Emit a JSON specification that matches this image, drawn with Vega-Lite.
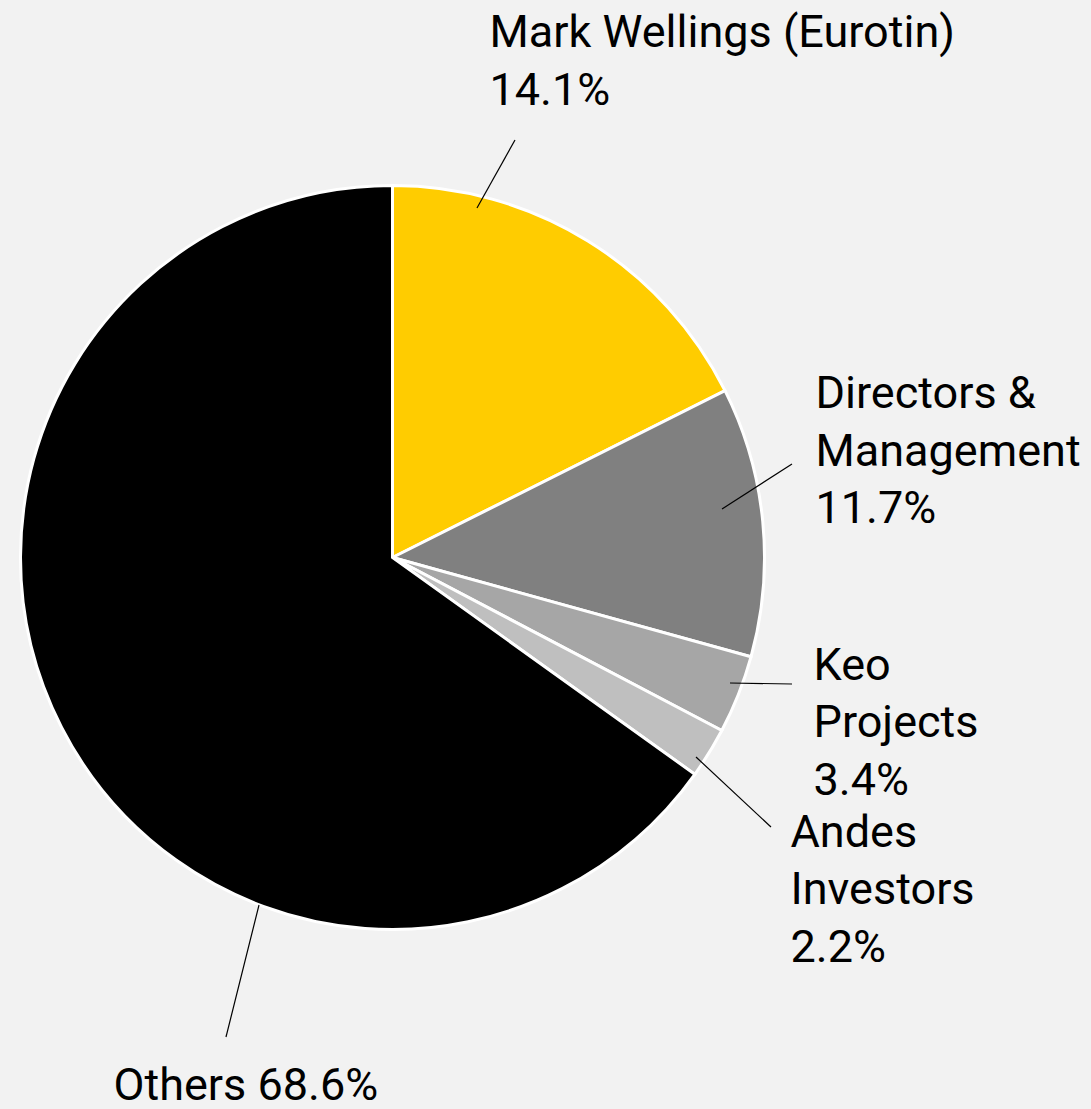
{
  "$schema": "https://vega.github.io/schema/vega-lite/v6.json",
  "width": 785,
  "height": 1109,
  "autosize": {"type": "none"},
  "padding": {"left": 0, "top": 3, "right": 306, "bottom": 0},
  "background": "#f2f2f2",
  "config": {"view": {"stroke": null}},
  "data": {
    "values": [
      {"name": "Mark Wellings (Eurotin)", "share": 17.6, "pct": 14.1, "label": "Mark Wellings (Eurotin)\n14.1%", "order": 1},
      {"name": "Directors & Management", "share": 11.7, "pct": 11.7, "label": "Directors &\nManagement\n11.7%", "order": 2},
      {"name": "Keo Projects", "share": 3.4, "pct": 3.4, "label": "Keo\nProjects\n3.4%", "order": 3},
      {"name": "Andes Investors", "share": 2.2, "pct": 2.2, "label": "Andes\nInvestors\n2.2%", "order": 4},
      {"name": "Others", "share": 65.1, "pct": 68.6, "label": "Others 68.6%", "order": 5}
    ]
  },
  "layer": [
    {
      "mark": {"type": "arc", "outerRadius": 372, "stroke": "#ffffff", "strokeWidth": 3},
      "encoding": {
        "theta": {"field": "share", "type": "quantitative", "stack": true},
        "order": {"field": "order", "type": "quantitative"},
        "color": {
          "field": "name",
          "type": "nominal",
          "scale": {
            "domain": ["Mark Wellings (Eurotin)", "Directors & Management", "Keo Projects", "Andes Investors", "Others"],
            "range": ["#ffcc00", "#808080", "#a6a6a6", "#bfbfbf", "#000000"]
          },
          "legend": null
        }
      }
    },
    {
      "transform": [{"filter": "datum.order == 1"}],
      "mark": {"type": "rule", "color": "#000000", "strokeWidth": 1.2},
      "encoding": {
        "x": {"datum": 0.2265, "type": "quantitative", "scale": {"domain": [-1.05228, 1.05228], "nice": false, "zero": false}, "axis": null},
        "y": {"datum": 0.9370, "type": "quantitative", "scale": {"domain": [-1.4866, 1.4866], "nice": false, "zero": false}, "axis": null},
        "x2": {"datum": 0.3284},
        "y2": {"datum": 1.1193}
      }
    },
    {
      "transform": [{"filter": "datum.order == 2"}],
      "mark": {"type": "rule", "color": "#000000", "strokeWidth": 1.2},
      "encoding": {
        "x": {"datum": 0.8834, "type": "quantitative", "axis": null},
        "y": {"datum": 0.1300, "type": "quantitative", "axis": null},
        "x2": {"datum": 1.0710},
        "y2": {"datum": 0.2507}
      }
    },
    {
      "transform": [{"filter": "datum.order == 3"}],
      "mark": {"type": "rule", "color": "#000000", "strokeWidth": 1.2},
      "encoding": {
        "x": {"datum": 0.9048, "type": "quantitative", "axis": null},
        "y": {"datum": -0.3365, "type": "quantitative", "axis": null},
        "x2": {"datum": 1.0710},
        "y2": {"datum": -0.3391}
      }
    },
    {
      "transform": [{"filter": "datum.order == 4"}],
      "mark": {"type": "rule", "color": "#000000", "strokeWidth": 1.2},
      "encoding": {
        "x": {"datum": 0.8137, "type": "quantitative", "axis": null},
        "y": {"datum": -0.5349, "type": "quantitative", "axis": null},
        "x2": {"datum": 1.0147},
        "y2": {"datum": -0.7225}
      }
    },
    {
      "transform": [{"filter": "datum.order == 5"}],
      "mark": {"type": "rule", "color": "#000000", "strokeWidth": 1.2},
      "encoding": {
        "x": {"datum": -0.3579, "type": "quantitative", "axis": null},
        "y": {"datum": -0.9316, "type": "quantitative", "axis": null},
        "x2": {"datum": -0.4464},
        "y2": {"datum": -1.2855}
      }
    },
    {
      "transform": [{"filter": "datum.order == 1"}],
      "mark": {"type": "text", "align": "left", "baseline": "alphabetic", "font": "Roboto", "fontSize": 45, "lineHeight": 57.5, "lineBreak": "\n", "color": "#000000"},
      "encoding": {
        "x": {"datum": 0.2600, "type": "quantitative", "axis": null},
        "y": {"datum": 1.3686, "type": "quantitative", "axis": null},
        "text": {"field": "label"}
      }
    },
    {
      "transform": [{"filter": "datum.order == 2"}],
      "mark": {"type": "text", "align": "left", "baseline": "alphabetic", "font": "Roboto", "fontSize": 45, "lineHeight": 57.5, "lineBreak": "\n", "color": "#000000"},
      "encoding": {
        "x": {"datum": 1.1340, "type": "quantitative", "axis": null},
        "y": {"datum": 0.4008, "type": "quantitative", "axis": null},
        "text": {"field": "label"}
      }
    },
    {
      "transform": [{"filter": "datum.order == 3"}],
      "mark": {"type": "text", "align": "left", "baseline": "alphabetic", "font": "Roboto", "fontSize": 45, "lineHeight": 57.5, "lineBreak": "\n", "color": "#000000"},
      "encoding": {
        "x": {"datum": 1.1287, "type": "quantitative", "axis": null},
        "y": {"datum": -0.3284, "type": "quantitative", "axis": null},
        "text": {"field": "label"}
      }
    },
    {
      "transform": [{"filter": "datum.order == 4"}],
      "mark": {"type": "text", "align": "left", "baseline": "alphabetic", "font": "Roboto", "fontSize": 45, "lineHeight": 57.5, "lineBreak": "\n", "color": "#000000"},
      "encoding": {
        "x": {"datum": 1.0670, "type": "quantitative", "axis": null},
        "y": {"datum": -0.7761, "type": "quantitative", "axis": null},
        "text": {"field": "label"}
      }
    },
    {
      "transform": [{"filter": "datum.order == 5"}],
      "mark": {"type": "text", "align": "left", "baseline": "alphabetic", "font": "Roboto", "fontSize": 45, "lineHeight": 57.5, "lineBreak": "\n", "color": "#000000"},
      "encoding": {
        "x": {"datum": -0.7480, "type": "quantitative", "axis": null},
        "y": {"datum": -1.4544, "type": "quantitative", "axis": null},
        "text": {"field": "label"}
      }
    }
  ]
}
